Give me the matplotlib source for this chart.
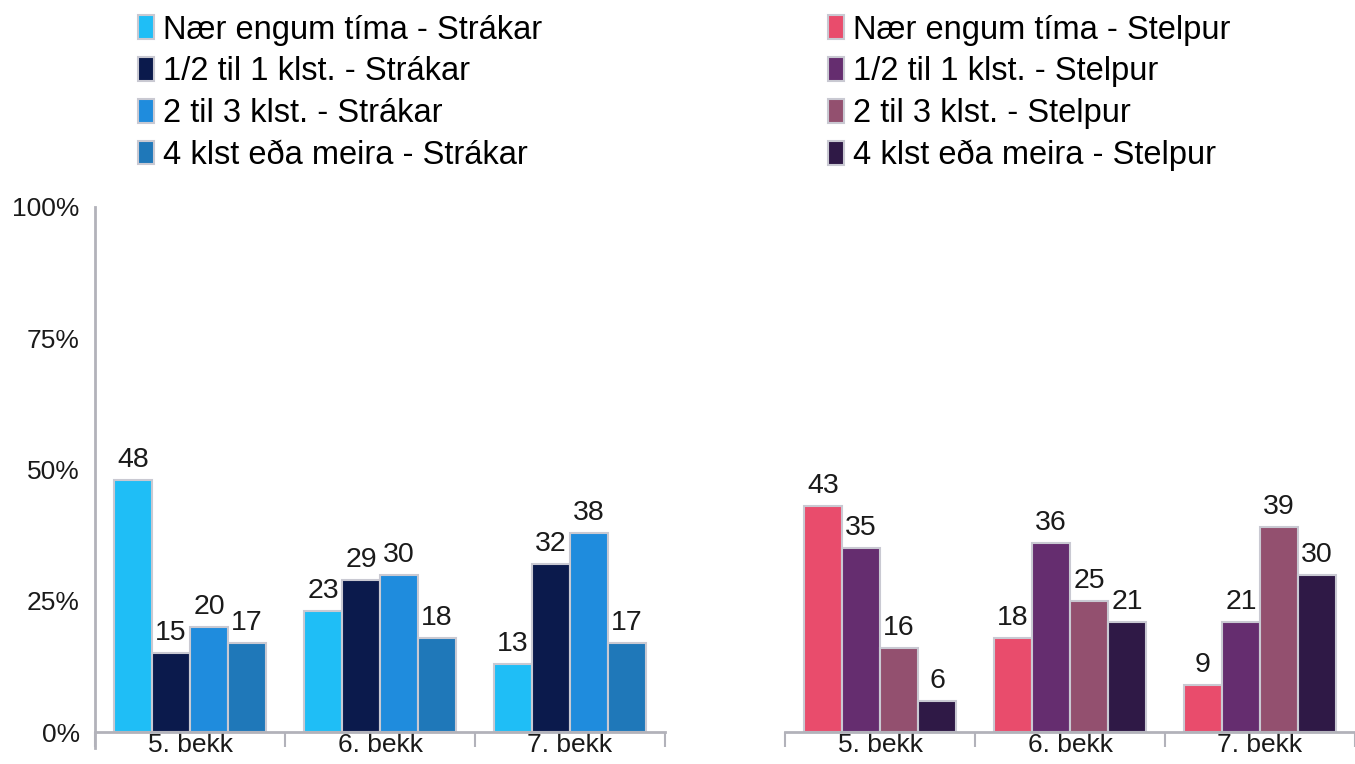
import numpy as np
import matplotlib.pyplot as plt
from matplotlib.ticker import FixedLocator, PercentFormatter

plt.rcParams['font.family'] = ['Liberation Sans', 'DejaVu Sans']

# ── Data ──────────────────────────────────────────────────────────────────────
grades = ['5. bekk', '6. bekk', '7. bekk']

boys_labels = ['Nær engum tíma - Strákar', '1/2 til 1 klst. - Strákar',
               '2 til 3 klst. - Strákar', '4 klst eða meira - Strákar']
boys_values = [
    [48, 23, 13],   # Nær engum tíma
    [15, 29, 32],   # 1/2 til 1 klst.
    [20, 30, 38],   # 2 til 3 klst.
    [17, 18, 17],   # 4 klst eða meira
]
boys_colors = ['#1FBEF6', '#0B1A4C', '#1F8CDD', '#1F78B9']

girls_labels = ['Nær engum tíma - Stelpur', '1/2 til 1 klst. - Stelpur',
                '2 til 3 klst. - Stelpur', '4 klst eða meira - Stelpur']
girls_values = [
    [43, 18, 9],
    [35, 36, 21],
    [16, 25, 39],
    [6, 21, 30],
]
girls_colors = ['#E94C6C', '#652D6F', '#93506F', '#2F1946']

TICK_FS = 19
LABEL_FS = 20.5
LEGEND_FS = 23.5
EDGE = '#C9C9D2'
AXIS = '#B2B2BA'
TXT = '#1a1a1a'

fig = plt.figure(figsize=(13.55, 7.64), dpi=100)
ax_l = fig.add_axes([95 / 1355, 32 / 764, 570 / 1355, 525 / 764])
ax_r = fig.add_axes([785 / 1355, 32 / 764, 570 / 1355, 525 / 764])


def draw(ax, values, colors, labels, show_y):
    x = np.arange(len(grades))
    w = 0.2
    handles = []
    for i, (vals, col, lab) in enumerate(zip(values, colors, labels)):
        b = ax.bar(x + (i - 1.5) * w, vals, w, color=col, edgecolor=EDGE,
                   linewidth=1.5, label=lab, zorder=2)
        handles.append(b)
        for rect, v in zip(b, vals):
            ax.text(rect.get_x() + rect.get_width() / 2, v + 1.3, str(v),
                    ha='center', va='bottom', fontsize=LABEL_FS, color=TXT)
    ax.set_xlim(-0.5, len(grades) - 0.5)
    ax.set_ylim(0, 100)
    ax.set_xticks(x)
    ax.set_xticklabels(grades, fontsize=TICK_FS, color=TXT)
    ax.xaxis.set_minor_locator(FixedLocator(np.arange(len(grades) + 1) - 0.5))
    ax.tick_params(axis='x', which='major', length=0, pad=1)
    ax.tick_params(axis='x', which='minor', length=11, width=1.5,
                   color=AXIS, direction='out')
    for s in ['top', 'right']:
        ax.spines[s].set_visible(False)
    ax.spines['bottom'].set_color(AXIS)
    ax.spines['bottom'].set_linewidth(2)
    if show_y:
        ax.set_yticks([0, 25, 50, 75, 100])
        ax.yaxis.set_major_formatter(PercentFormatter(decimals=0))
        ax.tick_params(axis='y', length=0, pad=11, labelsize=TICK_FS,
                       labelcolor=TXT)
        ax.spines['left'].set_color(AXIS)
        ax.spines['left'].set_linewidth(2)
        ax.spines['left'].set_bounds(-3, 100)
    else:
        ax.spines['left'].set_visible(False)
        ax.set_yticks([])
    return handles


h_l = draw(ax_l, boys_values, boys_colors, boys_labels, True)
h_r = draw(ax_r, girls_values, girls_colors, girls_labels, False)

for handles, labels, xpos in [(h_l, boys_labels, 138 / 1355),
                              (h_r, girls_labels, 828 / 1355)]:
    fig.legend(handles, labels, loc='upper left', bbox_to_anchor=(xpos, 0.981),
               frameon=False, fontsize=LEGEND_FS, borderpad=0, borderaxespad=0,
               handlelength=0.49, handleheight=0.74, handletextpad=0.29,
               labelspacing=0.33)

fig.savefig('out.png', dpi=100)
